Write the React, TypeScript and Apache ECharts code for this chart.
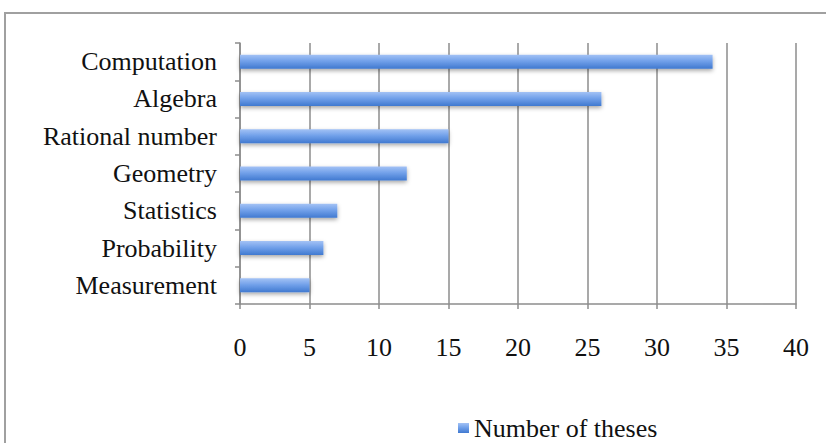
import React, { useEffect, useRef } from "react";
import * as echarts from "echarts";

const categories = [
  "Computation",
  "Algebra",
  "Rational number",
  "Geometry",
  "Statistics",
  "Probability",
  "Measurement",
];
const theses = [34, 26, 15, 12, 7, 6, 5];
const seriesName = "Number of theses";

export default function App() {
  const ref = useRef<HTMLDivElement>(null);
  useEffect(() => {
    document.body.style.margin = "0";
    const chart = echarts.init(ref.current!, null, { renderer: "svg" });
    const font = "'Liberation Serif', 'Times New Roman', serif";
    chart.setOption({
      animation: false,
      backgroundColor: "#ffffff",
      graphic: [
        {
          type: "rect",
          shape: { x: 5, y: 13, width: 900, height: 500 },
          style: { fill: "none", stroke: "#a0a0a0", lineWidth: 2 },
          silent: true,
        },
      ],
      grid: { left: 240, right: 30, top: 43, bottom: 139 },
      legend: {
        data: [seriesName],
        left: 453,
        top: 410,
        icon: "rect",
        itemWidth: 11,
        itemHeight: 10,
        itemGap: 4,
        textStyle: { fontFamily: font, fontSize: 26, color: "#111" },
      },
      xAxis: {
        type: "value",
        min: 0,
        max: 40,
        interval: 5,
        axisLine: { show: true, lineStyle: { color: "#8c8c8c", width: 1.5 } },
        axisTick: { show: true, length: 5, lineStyle: { color: "#8c8c8c", width: 1.5 } },
        splitLine: { show: true, lineStyle: { color: "#8c8c8c", width: 1.5 } },
        axisLabel: { fontFamily: font, fontSize: 26, color: "#111", margin: 30 },
      },
      yAxis: {
        type: "category",
        data: categories,
        inverse: true,
        axisLine: { show: true, lineStyle: { color: "#8c8c8c", width: 1.5 } },
        axisTick: { show: true, length: 5, lineStyle: { color: "#8c8c8c", width: 1.5 } },
        axisLabel: { fontFamily: font, fontSize: 26, color: "#111", margin: 23 },
      },
      series: [
        {
          name: seriesName,
          type: "bar",
          data: theses,
          barWidth: 14,
          itemStyle: {
            color: new echarts.graphic.LinearGradient(0, 0, 0, 1, [
              { offset: 0, color: "#a3c2f5" },
              { offset: 0.45, color: "#72a1ea" },
              { offset: 1, color: "#4079d0" },
            ]),
            shadowColor: "rgba(0,0,0,0.35)",
            shadowBlur: 4,
            shadowOffsetY: 2,
          },
        },
      ],
    });
    return () => chart.dispose();
  }, []);
  return <div ref={ref} style={{ width: 826, height: 443 }} />;
}
